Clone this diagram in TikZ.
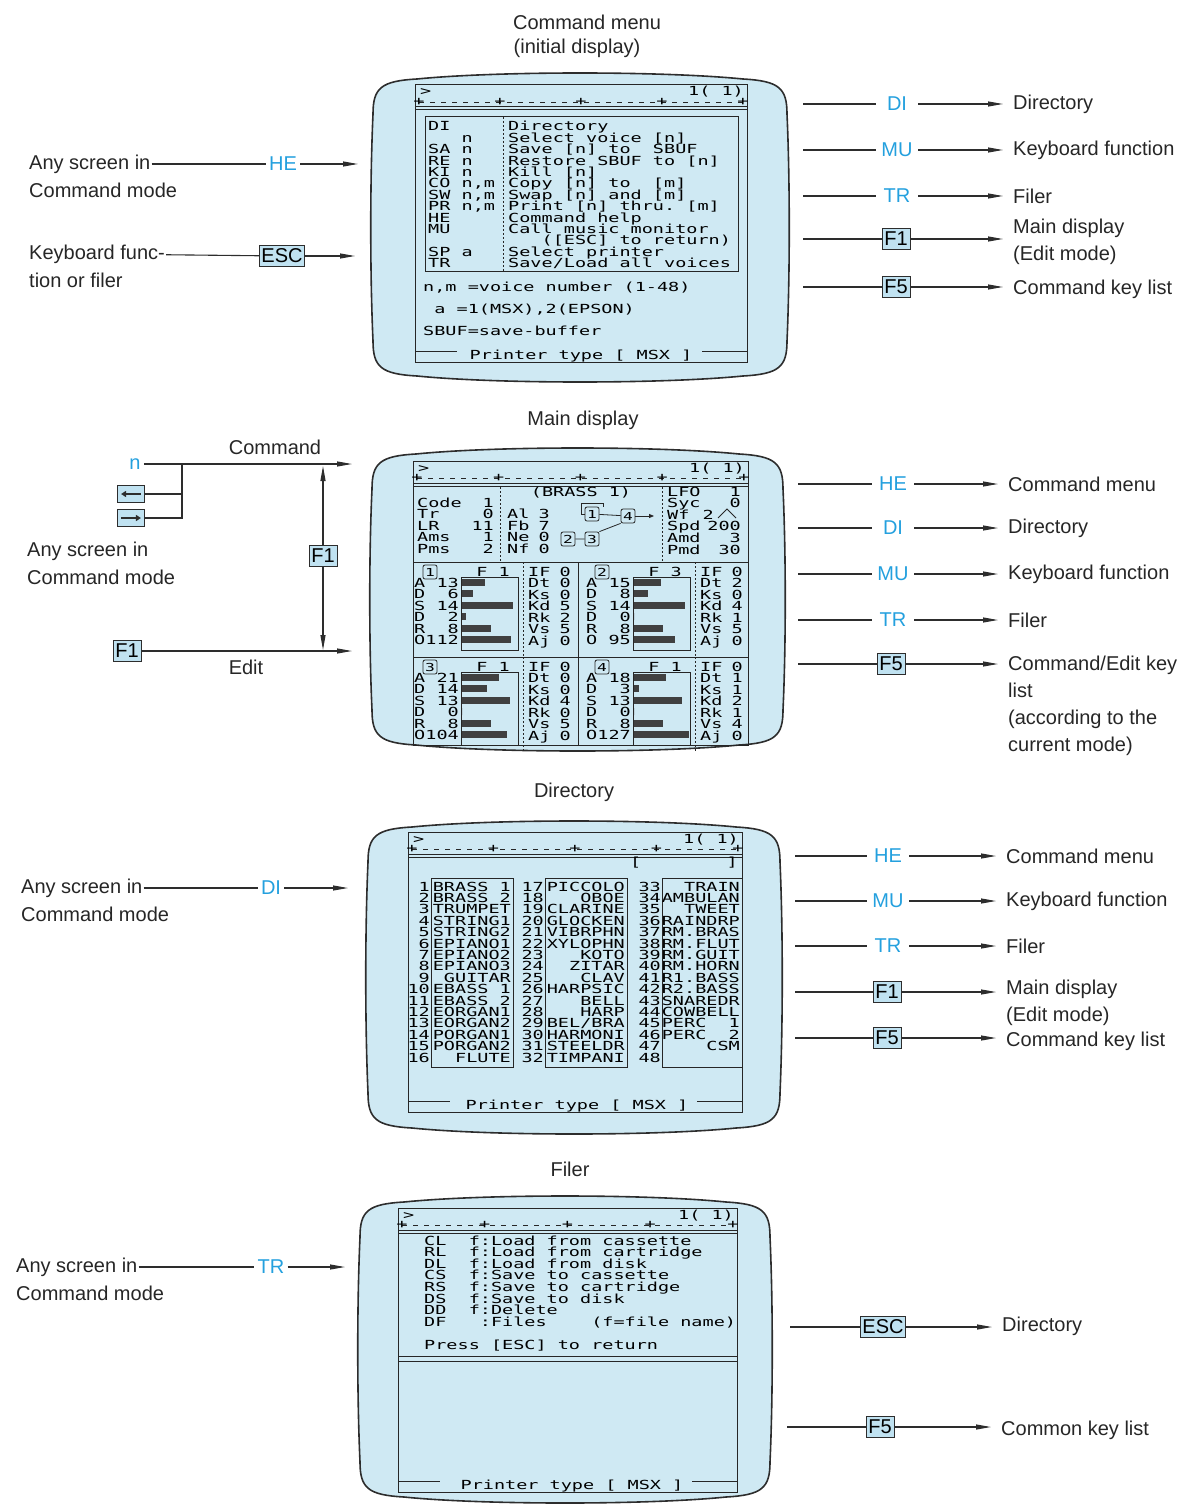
\documentclass[tikz,border=0pt]{standalone}
\usepackage{fontspec}
\setmainfont{Liberation Sans}
\newfontfamily\scrfont[FakeStretch=1.48]{DejaVu Sans Mono}
\usetikzlibrary{arrows.meta, positioning, calc}

\definecolor{scrblue}{RGB}{207,233,243}
\definecolor{keyblue}{RGB}{192,226,241}
\definecolor{cmdblue}{RGB}{36,160,222}
\definecolor{ink}{RGB}{45,45,45}

% CRT outline: left, top, right, bottom
\newcommand{\crtshape}[4]{%
  \draw[crt] (#1,#2+42) .. controls (#1,#2+16) and (#1+8,#2+9) .. (#1+44,#2+7)
    .. controls ({#1+0.3*(#3-#1)},#2-1) and ({#3-0.3*(#3-#1)},#2-1) .. (#3-44,#2+7)
    .. controls (#3-8,#2+9) and (#3,#2+16) .. (#3,#2+42)
    .. controls (#3+3,{#2+0.35*(#4-#2)}) and (#3+3,{#4-0.35*(#4-#2)}) .. (#3,#4-42)
    .. controls (#3,#4-16) and (#3-8,#4-9) .. (#3-44,#4-7)
    .. controls ({#3-0.3*(#3-#1)},#4+1) and ({#1+0.3*(#3-#1)},#4+1) .. (#1+44,#4-7)
    .. controls (#1+8,#4-9) and (#1,#4-16) .. (#1,#4-42)
    .. controls (#1-3,{#4-0.35*(#4-#2)}) and (#1-3,{#2+0.35*(#4-#2)}) .. cycle;}

% screen frame with prompt row and ruler: left, top, right, bottom
\newcommand{\scrhead}[4]{%
  \draw[frame] (#1,#2) rectangle (#3,#4);
  \node[scrtxt, anchor=base west] at (#1+5,#2+11) {>};
  \node[scrtxt, anchor=base east] at (#3-3,#2+11) {1(~1)};
  \draw[frame, line width=0.8pt, dash pattern=on 5pt off 6pt] (#1+4,#2+17) -- (#3-4,#2+17);
  \foreach \q in {0,...,4}
    \node[scrtxt] at ({#1+4+\q*(#3-#1-8)/4},#2+17) {+};
  \draw[frame] (#1,#2+22) -- (#3,#2+22) (#1,#2+25) -- (#3,#2+25);}

% status bar: left, right, bottom, text centre
\newcommand{\statusbar}[4]{%
  \node[scrtxt, anchor=base] at (#4,#3-2.5) {Printer type [ MSX ]};
  \draw[frame] (#1,#3-11) -- (#1+42,#3-11) (#2-45,#3-11) -- (#2,#3-11);}

% operator panel: x0, y0, number, F, ADSDRO values, parameter values
\newcommand{\oppanel}[6]{%
  \node[opbox] at (#1+17,#2+10) {#3};
  \node[scrtxt, anchor=base] at (#1+80,#2+14) {#4};
  \draw[frame, line width=0.8pt] (#1+48,#2+15) rectangle (#1+105,#2+88);
  \draw[frame, line width=0.7pt, dash pattern=on 2pt off 2pt] (#1+110,#2) -- (#1+110,#2+95);
  \foreach \l [count=\k from 0] in {A,D,S,D,R,O}
    \node[scrtxt, anchor=base west] at (#1+1,#2+25+\k*11.5) {\l};
  \foreach \v [count=\k from 0] in {#5}{
    \pgfmathsetmacro\mx{{31,31,15,31,15,127}[\k]}
    \node[scrtxt, anchor=base east] at (#1+46,#2+25+\k*11.5) {\v};
    \fill[bar] (#1+49,#2+16.5+\k*11.5) rectangle ({#1+49+55*\v/\mx},#2+23.5+\k*11.5);}
  \foreach \l [count=\k from 0] in {IF,Dt,Ks,Kd,Rk,Vs,Aj}
    \node[scrtxt, anchor=base west] at (#1+115,#2+14+\k*11.5) {\l};
  \foreach \v [count=\k from 0] in {#6}
    \node[scrtxt, anchor=base east] at (#1+158,#2+14+\k*11.5) {\v};}

\begin{document}
\begin{tikzpicture}[x=1pt, y=-1pt,
  lbl/.style={font=\fontsize{20}{27}\selectfont, inner sep=1pt, text=black!85},
  dest/.style={lbl, anchor=west, inner sep=0pt, align=left},
  cmd/.style={font=\fontsize{20}{24}\selectfont, text=cmdblue, inner sep=3pt},
  rcmd/.style={cmd, minimum width=42pt},
  key/.style={draw=ink, fill=keyblue, line width=0.9pt, font=\fontsize{20}{24}\selectfont, inner sep=2pt, minimum height=21pt, minimum width=28pt},
  arrowkey/.style={key, minimum width=27pt, minimum height=17pt, inner sep=0pt},
  keyarr/.style={ink, line width=1.4pt, -{Triangle[length=5pt,width=6pt]}},
  wire/.style={ink, line width=1.1pt},
  arr/.style={wire, -{Triangle[length=15pt,width=5pt]}},
  toarr/.style={arr, shorten >=10pt},
  crt/.style={draw=ink, line width=1.6pt, fill=scrblue},
  frame/.style={draw=black!85, line width=1pt},
  scrtxt/.style={font=\scrfont\fontsize{12.5}{11.4}\selectfont, inner sep=0pt, text=black},
  opbox/.style={draw=black!85, line width=0.8pt, rounded corners=2pt, inner sep=0.5pt, minimum size=14pt, font=\scrfont\fontsize{11}{11}\selectfont},
  bar/.style={fill=black!75},
]
\useasboundingbox (0,0) rectangle (1187,1506);

% ---- Command menu ----
\node[lbl] (t1) at (587,22) {Command menu};
\node[lbl] (t1b) at (577,48) {(initial display)};
\crtshape{373}{72}{787}{383}
\scrhead{415}{85}{747}{362}
\draw[frame] (425,117) rectangle (738,271);
\draw[frame, line width=0.7pt, dash pattern=on 2pt off 2pt] (503,117) -- (503,271);
\foreach \t [count=\i] in {DI, ~~~n, SA~n, RE~n, KI~n, {CO~n,m}, {SW~n,m}, {PR~n,m}, HE, MU, {}, SP~a, TR}
  \node[scrtxt, anchor=base west] at (428,119.6+\i*11.4) {\t};
\foreach \t [count=\i] in {Directory, Select voice~[n], Save [n] to~~SBUF, Restore SBUF to [n], Kill [n], Copy [n] to~~[m], Swap [n] and [m], Print [n] thru.~[m], Command help, Call music monitor, ~~~([ESC] to return), Select printer, Save/Load all voices}
  \node[scrtxt, anchor=base west] at (508,119.6+\i*11.4) {\t};
\node[scrtxt, anchor=base west] (nm) at (423,291) {n,m =voice number (1-48)};
\node[scrtxt, anchor=base west] (pa) at (423,313) {~a~=1(MSX),2(EPSON)};
\node[scrtxt, anchor=base west] (sb) at (423,335) {SBUF=save-buffer};
\statusbar{415}{747}{362}{581}

\node[lbl, anchor=west] (any1) at (28,164) {Any screen in};
\node[lbl, anchor=west] (any1b) at (28,190) {Command mode};
\node[cmd] (he1) at (283,164) {HE};
\coordinate (in1a) at (358,164);
\draw[wire] (any1) -- (he1);
\draw[arr] (he1) -- (in1a);
\node[lbl, anchor=west] (kbf) at (28,254) {Keyboard func-};
\node[lbl, anchor=west] (kbfb) at (28,280) {tion or filer};
\node[key] (esc1) at (282,256) {ESC};
\coordinate (in1b) at (355,256);
\draw[wire] (kbf) -- (esc1);
\draw[arr] (esc1) -- (in1b);

\foreach \k/\y/\txt in {DI/104/Directory, MU/150/Keyboard function, TR/196/Filer}{
  \coordinate (a1\k) at (803,\y);
  \node[rcmd] (k1\k) at (897,\y) {\k};
  \node[dest] (g1\k) at (1013,\y) {\txt};
  \draw[wire] (a1\k) -- (k1\k);
  \draw[toarr] (k1\k) -- (k1\k -| g1\k.west);
}
\node[key] (f1a) at (896,239) {F1};
\coordinate (a1F1) at (803,239);
\node[dest] (g1F1) at (1013,242) {Main display\\(Edit mode)};
\draw[wire] (a1F1) -- (f1a);
\draw[toarr] (f1a) -- (f1a -| g1F1.west);
\node[key] (f5a) at (896,287) {F5};
\coordinate (a1F5) at (803,287);
\node[dest] (g1F5) at (1013,289) {Command key list};
\draw[wire] (a1F5) -- (f5a);
\draw[toarr] (f5a) -- (f5a -| g1F5.west);

% ---- Main display ----
\node[lbl] (t2) at (583,420) {Main display};
\crtshape{372}{447}{783}{752}
\scrhead{413}{461}{748}{745}
\draw[frame, line width=0.7pt, dash pattern=on 2pt off 2pt] (500,487) -- (500,562) (662,487) -- (662,562);
\draw[frame] (413,562) -- (748,562) (413,657) -- (748,657) (578,562) -- (578,745);
\foreach \l/\v [count=\i] in {Code/1, Tr/0, LR/11, Ams/1, Pms/2}{
  \node[scrtxt, anchor=base west] at (417,495.5+\i*11.5) {\l};
  \node[scrtxt, anchor=base east] at (494,495.5+\i*11.5) {\v};
}
\node[scrtxt, anchor=base] (brass) at (581,496) {(BRASS 1)};
\foreach \l/\v [count=\i] in {Al/3, Fb/7, Ne/0, Nf/0}{
  \node[scrtxt, anchor=base west] at (507,507+\i*11.5) {\l};
  \node[scrtxt, anchor=base east] at (550,507+\i*11.5) {\v};
}
\foreach \l/\v [count=\i] in {LFO/1, Syc/0, Wf/{}, Spd/200, Amd/3, Pmd/30}{
  \node[scrtxt, anchor=base west] at (667,484.5+\i*11.6) {\l};
  \node[scrtxt, anchor=base east] at (741,484.5+\i*11.6) {\v};
}
\node[scrtxt, anchor=base east] (wf) at (714,519.3) {2};
\draw[frame, line width=0.8pt] (718,518) -- (727,509) -- (736,518);
\node[opbox] (op1) at (592,514) {1};
\node[opbox] (op4) at (628,516) {4};
\node[opbox] (op2) at (568,539) {2};
\node[opbox] (op3) at (592,539) {3};
\coordinate (algout) at (654,516);
\draw[frame, line width=0.8pt] (op1) -- (op4) (op2) -- (op3) (op3.north east) -- (op4.south west);
\draw[frame, line width=0.8pt, -{Triangle[length=5pt,width=4pt]}] (op4) -- (algout);
\draw[frame, line width=0.8pt] (op1.west) -- (581,514) -- (581,503) -- (603,503) -- (603,507);
\oppanel{413}{562}{1}{F~1}{13,6,14,2,8,112}{0,0,0,5,2,5,0}
\oppanel{585}{562}{2}{F~3}{15,8,14,0,8,95}{0,2,0,4,1,5,0}
\oppanel{413}{657}{3}{F~1}{21,14,13,0,8,104}{0,0,0,4,0,5,0}
\oppanel{585}{657}{4}{F~1}{18,3,13,0,8,127}{0,1,1,2,1,4,0}

\node[cmd] (n2) at (135,464) {n};
\node[lbl] (cmdl) at (275,447) {Command};
\coordinate (in2a) at (352,464);
\draw[arr] (n2) -- (in2a);
\node[arrowkey] (lk) at (131,494) {};
\node[arrowkey] (rk) at (131,518) {};
\draw[keyarr] ($(lk.east)+(-4,0)$) -- ($(lk.west)+(4,0)$);
\draw[keyarr] ($(rk.west)+(4,0)$) -- ($(rk.east)+(-4,0)$);
\coordinate (jn) at (182,464);
\draw[wire] (lk) -| (jn);
\draw[wire] (rk) -| (jn);
\node[lbl, anchor=west] (any2) at (26,551) {Any screen in};
\node[lbl, anchor=west] (any2b) at (26,577) {Command mode};
\node[key] (f1m) at (323,556) {F1};
\coordinate (c2top) at (323,466);
\coordinate (c2bot) at (323,650);
\draw[arr] (f1m) -- (c2top);
\draw[arr] (f1m) -- (c2bot);
\node[key] (f1e) at (127,651) {F1};
\coordinate (in2b) at (352,651);
\draw[arr] (f1e) -- (in2b);
\node[lbl] (editl) at (246,667) {Edit};

\foreach \k/\y/\txt in {HE/484/Command menu, DI/528/Directory, MU/574/Keyboard function, TR/620/Filer}{
  \coordinate (a2\k) at (798,\y);
  \node[rcmd] (k2\k) at (893,\y) {\k};
  \node[dest] (g2\k) at (1008,\y) {\txt};
  \draw[wire] (a2\k) -- (k2\k);
  \draw[toarr] (k2\k) -- (k2\k -| g2\k.west);
}
\node[key] (f5b) at (891,664) {F5};
\coordinate (a2F5) at (798,664);
\node[dest, anchor=north west] (g2F5) at (1008,656) {Command/Edit key\\list\\(according to the\\current mode)};
\draw[wire] (a2F5) -- (f5b);
\draw[toarr] (f5b) -- (f5b -| g2F5.west);

% ---- Directory ----
\node[lbl] (t3) at (574,792) {Directory};
\crtshape{368}{820}{780}{1135}
\scrhead{408}{832}{742}{1112}
\node[scrtxt, anchor=base west] (lb) at (630,866) {[};
\node[scrtxt, anchor=base east] (rb) at (738,866) {]};
\draw[frame] (431,878) rectangle (513,1067) (545,878) rectangle (627,1067) (662,878) rectangle (742,1067);
\foreach \n [count=\i] in {BRASS~1, BRASS~2, TRUMPET, STRING1, STRING2, EPIANO1, EPIANO2, EPIANO3, GUITAR, EBASS~1, EBASS~2, EORGAN1, EORGAN2, PORGAN1, PORGAN2, FLUTE}{
  \node[scrtxt, anchor=base east] at (430,879.6+\i*11.4) {\i};
  \node[scrtxt, anchor=base east] at (511,879.6+\i*11.4) {\n};
}
\foreach \n [count=\i, evaluate=\i as \j using int(\i+16)] in {PICCOLO, OBOE, CLARINE, GLOCKEN, VIBRPHN, XYLOPHN, KOTO, ZITAR, CLAV, HARPSIC, BELL, HARP, BEL/BRA, HARMONI, STEELDR, TIMPANI}{
  \node[scrtxt, anchor=base east] at (544,879.6+\i*11.4) {\j};
  \node[scrtxt, anchor=base east] at (625,879.6+\i*11.4) {\n};
}
\foreach \n [count=\i, evaluate=\i as \j using int(\i+32)] in {TRAIN, AMBULAN, TWEET, RAINDRP, RM.BRAS, RM.FLUT, RM.GUIT, RM.HORN, R1.BASS, R2.BASS, SNAREDR, COWBELL, PERC~~1, PERC~~2, CSM, {}}{
  \node[scrtxt, anchor=base east] at (661,879.6+\i*11.4) {\j};
  \node[scrtxt, anchor=base east] at (740,879.6+\i*11.4) {\n};
}
\statusbar{408}{742}{1112}{577}

\node[lbl, anchor=west] (any3) at (20,888) {Any screen in};
\node[lbl, anchor=west] (any3b) at (20,914) {Command mode};
\node[cmd] (di3) at (271,888) {DI};
\coordinate (in3) at (348,888);
\draw[wire] (any3) -- (di3);
\draw[arr] (di3) -- (in3);

\foreach \k/\y/\txt in {HE/856/Command menu, MU/901/Keyboard function, TR/946/Filer}{
  \coordinate (a3\k) at (795,\y);
  \node[rcmd] (k3\k) at (888,\y) {\k};
  \node[dest] (g3\k) at (1006,\y) {\txt};
  \draw[wire] (a3\k) -- (k3\k);
  \draw[toarr] (k3\k) -- (k3\k -| g3\k.west);
}
\node[key] (f1c) at (887,992) {F1};
\coordinate (a3F1) at (795,992);
\node[dest] (g3F1) at (1006,1003) {Main display\\(Edit mode)};
\draw[wire] (a3F1) -- (f1c);
\draw[toarr] (f1c) -- (f1c -| g3F1.west);
\node[key] (f5c) at (887,1038) {F5};
\coordinate (a3F5) at (795,1038);
\node[dest] (g3F5) at (1006,1041) {Command key list};
\draw[wire] (a3F5) -- (f5c);
\draw[toarr] (f5c) -- (f5c -| g3F5.west);

% ---- Filer ----
\node[lbl] (t4) at (570,1169) {Filer};
\crtshape{360}{1195}{770}{1504}
\scrhead{398}{1208}{737}{1492}
\foreach \t [count=\i] in {CL~~f:Load from cassette, RL~~f:Load from cartridge, DL~~f:Load from disk, CS~~f:Save to cassette, RS~~f:Save to cartridge, DS~~f:Save to disk, DD~~f:Delete, DF~~~:Files~~~~(f=file name)}
  \node[scrtxt, anchor=base west] at (424,1233.4+\i*11.6) {\t};
\node[scrtxt, anchor=base west] (press) at (424,1349) {Press [ESC] to return};
\draw[frame] (398,1356) -- (737,1356) (398,1361) -- (737,1361);
\statusbar{398}{737}{1492}{572}

\node[lbl, anchor=west] (any4) at (15,1267) {Any screen in};
\node[lbl, anchor=west] (any4b) at (15,1293) {Command mode};
\node[cmd] (tr4) at (271,1267) {TR};
\coordinate (in4) at (345,1267);
\draw[wire] (any4) -- (tr4);
\draw[arr] (tr4) -- (in4);

\node[key] (esc4) at (883,1327) {ESC};
\coordinate (a4esc) at (790,1327);
\node[dest] (g4esc) at (1002,1326) {Directory};
\draw[wire] (a4esc) -- (esc4);
\draw[toarr] (esc4) -- (esc4 -| g4esc.west);
\node[key] (f5d) at (880,1427) {F5};
\coordinate (a4F5) at (787,1427);
\node[dest] (g4F5) at (1001,1430) {Common key list};
\draw[wire] (a4F5) -- (f5d);
\draw[toarr] (f5d) -- (f5d -| g4F5.west);
\end{tikzpicture}
\end{document}
